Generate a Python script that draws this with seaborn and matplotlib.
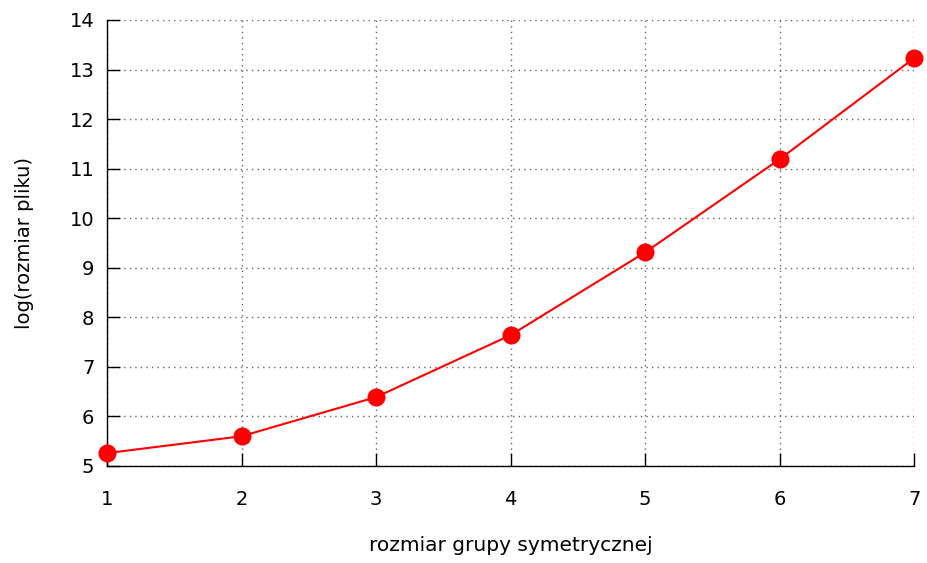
import matplotlib
matplotlib.use("Agg")
import matplotlib.pyplot as plt
import seaborn as sns
import pandas as pd

group_size = [1, 2, 3, 4, 5, 6, 7]
log_file_size = [5.26, 5.60, 6.39, 7.64, 9.31, 11.19, 13.23]
x_ticks = [1, 2, 3, 4, 5, 6, 7]
y_ticks = [5, 6, 7, 8, 9, 10, 11, 12, 13, 14]

sns.set_theme(style="white")
plt.rcParams['font.family'] = ['DejaVu Sans']

df = pd.DataFrame({"x": group_size, "y": log_file_size})

fig = plt.figure(figsize=(9.28, 5.63), dpi=100)
ax = fig.add_axes([0.1153, 0.1723, 0.985 - 0.1153, 0.9645 - 0.1723])

sns.lineplot(data=df, x="x", y="y", ax=ax, color="#ff0000", linewidth=1.5,
             marker="o", markersize=13, markeredgewidth=0, zorder=5, clip_on=False)

ax.set_xlim(1, 7)
ax.set_ylim(5, 14)
ax.set_xticks(x_ticks)
ax.set_yticks(y_ticks)
ax.grid(True, color="#666666", linestyle=(0, (1, 3)), linewidth=1.0)
for s in ["top", "right"]:
    ax.spines[s].set_visible(False)
for s in ["left", "bottom"]:
    ax.spines[s].set_color("black")
    ax.spines[s].set_linewidth(1.0)
ax.tick_params(axis="both", direction="in", length=9.5, width=1.0, color="black",
               labelsize=14, labelcolor="black", bottom=True, left=True,
               top=False, right=False)
ax.tick_params(axis="x", pad=17)
ax.tick_params(axis="y", pad=9)
ax.set_xlabel("rozmiar grupy symetrycznej", fontsize=14.5, labelpad=20, color="black")
ax.set_ylabel("log(rozmiar pliku)", fontsize=14, labelpad=26, color="black")
ax.set_facecolor("white")

fig.savefig("out.png", dpi=100, facecolor="white")
